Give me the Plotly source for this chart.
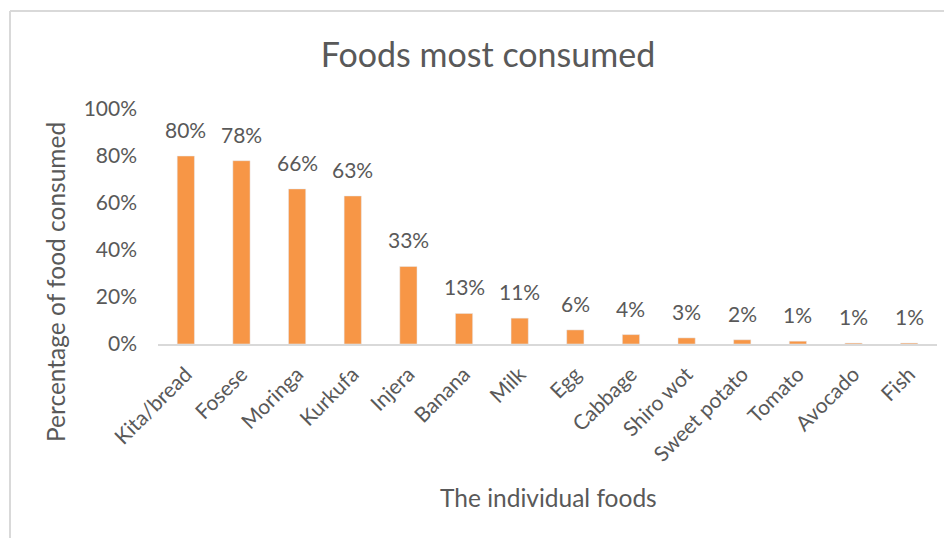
import plotly.graph_objects as go

foods = ["Kita/bread", "Fosese", "Moringa", "Kurkufa", "Injera", "Banana", "Milk",
         "Egg", "Cabbage", "Shiro wot", "Sweet potato", "Tomato", "Avocado", "Fish"]
values = [80, 78, 66, 63, 33, 13, 11, 6, 4, 2.6, 1.8, 1.2, 0.4, 0.4]
labels = ["80%", "78%", "66%", "63%", "33%", "13%", "11%", "6%", "4%", "3%", "2%", "1%", "1%", "1%"]
y_ticks = [0, 20, 40, 60, 80, 100]

# page body has an 8px default margin; work in screen coordinates
OFF = 8
W, H = 952 - OFF, 538 - OFF
PL, PR, PT, PB = 158, 937, 109, 344  # plot area in screen px
L, R, T, B = PL - OFF, W - (PR - OFF), PT - OFF, H - (PB - OFF)
pw, ph = PR - PL, PB - PT

def px_x(x):
    return (x - PL) / pw

def px_y(y):
    return (PB - y) / ph

font = "Lato, 'Open Sans', sans-serif"
grey = "#595959"

fig = go.Figure(go.Bar(x=foods, y=values, marker_color="#F79646", width=0.31))

annotations = []
for f, v, lab in zip(foods, values, labels):
    annotations.append(dict(x=f, y=v, xref="x", yref="y", text=lab, showarrow=False,
                            yanchor="bottom", yshift=12,
                            font=dict(family=font, size=21, color=grey)))
annotations.append(dict(x=px_x(55), y=px_y(282), xref="paper", yref="paper",
                        xanchor="center", yanchor="middle",
                        text="Percentage of food consumed", textangle=-90, showarrow=False,
                        font=dict(family=font, size=24.5, color=grey)))
annotations.append(dict(x=px_x(548), y=px_y(497), xref="paper", yref="paper",
                        xanchor="center", yanchor="middle",
                        text="The individual foods", showarrow=False,
                        font=dict(family=font, size=24.5, color=grey)))

shapes = [
    dict(type="line", xref="paper", yref="paper", x0=px_x(10), x1=px_x(960),
         y0=px_y(11), y1=px_y(11), line=dict(color="#D9D9D9", width=2)),
    dict(type="line", xref="paper", yref="paper", x0=px_x(10), x1=px_x(10),
         y0=px_y(11), y1=px_y(545), line=dict(color="#D9D9D9", width=2)),
]

fig.update_layout(
    width=W, height=H,
    margin=dict(l=L, r=R, t=T, b=B, autoexpand=False),
    paper_bgcolor="white", plot_bgcolor="white",
    showlegend=False,
    title=dict(text="Foods most consumed", x=(488 - OFF) / W, xanchor="center",
               y=1 - (55 - OFF) / H, yanchor="middle",
               font=dict(family=font, size=34, color=grey)),
    annotations=annotations,
    shapes=shapes,
    xaxis=dict(tickangle=-45, showline=True, linecolor="#D9D9D9", linewidth=1.5,
               showgrid=False, ticks="", automargin=False, ticklabelstandoff=8,
               tickfont=dict(family=font, size=21, color=grey)),
    yaxis=dict(range=[0, 100], tickvals=y_ticks, ticktext=[f"{t}%" for t in y_ticks],
               showgrid=False, zeroline=False, showline=False, ticks="",
               ticklabelstandoff=20, automargin=False,
               tickfont=dict(family=font, size=21, color=grey)),
)

fig.write_html("out.html")
